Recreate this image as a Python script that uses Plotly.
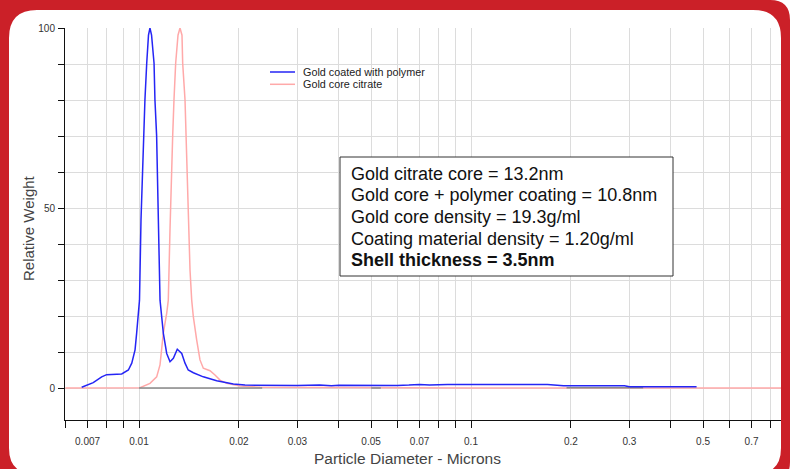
import plotly.graph_objects as go

# ---------------- data ----------------
series_names = ["Gold coated with polymer", "Gold core citrate"]
series_colors = ["#2525F5", "#FFA9A9"]

blue_x = [0.00672, 0.00728, 0.00772, 0.00799, 0.00887, 0.00929, 0.00951, 0.00973,
          0.00984, 0.00995, 0.010035, 0.01014, 0.01026, 0.01035, 0.01042, 0.01055,
          0.01068, 0.01079, 0.01091, 0.01110, 0.01117, 0.01130, 0.01133, 0.01141,
          0.01149, 0.01157, 0.01184, 0.01212, 0.01240, 0.01269, 0.01304, 0.01345,
          0.01376, 0.01407, 0.01458, 0.01562, 0.01714, 0.01923, 0.02086,
          0.025, 0.03, 0.035, 0.038, 0.04, 0.045, 0.05, 0.055, 0.06, 0.065, 0.07,
          0.075, 0.085, 0.1, 0.12, 0.15, 0.17, 0.19, 0.25, 0.29, 0.30, 0.40, 0.478]
blue_y = [0.2, 1.5, 3.1, 3.7, 3.9, 5.0, 6.9, 10.6,
          15.3, 21.7, 24.4, 46.7, 64.2, 70.1, 80.0, 90.2,
          98.0, 100.0, 98.0, 90.2, 80.0, 70.1, 64.2, 46.7,
          32.8, 24.4, 15.2, 9.6, 7.3, 8.25, 10.75, 9.6,
          6.9, 5.0, 4.25, 3.1, 2.0, 1.1, 0.8,
          0.7, 0.7, 0.8, 0.6, 0.75, 0.7, 0.7, 0.8, 0.7, 0.8, 1.0,
          0.8, 1.0, 1.0, 1.0, 1.0, 1.0, 0.6, 0.6, 0.6, 0.35, 0.35, 0.35]

pink_x = [0.006, 0.01007, 0.010793, 0.011304, 0.011568, 0.011705, 0.011835, 0.012116,
          0.012253, 0.012398, 0.012545, 0.012632, 0.012746, 0.012896, 0.013106,
          0.013289, 0.013474, 0.013539, 0.013760, 0.013855, 0.013922, 0.014048,
          0.014244, 0.014412, 0.014575, 0.014921, 0.015265, 0.015621, 0.016364,
          0.016938, 0.017538, 0.018370, 0.020145, 0.023145, 0.1, 0.9]
pink_y = [0.0, 0.1, 1.3, 3.1, 6.4, 10.6, 15.2, 20.7,
          24.4, 43.9, 64.2, 70.1, 80.0, 90.2, 98.0,
          100.0, 98.0, 90.2, 80.0, 70.1, 64.2, 46.7,
          32.8, 24.4, 19.8, 13.3, 7.8, 5.5, 4.8,
          3.6, 2.2, 1.3, 0.55, 0.2, 0.0, 0.0]

base_x = [0.01, 0.0235, None, 0.05, 0.0535, None, 0.194, 0.33]
base_y = [0.0, 0.0, None, 0.0, 0.0, None, 0.1, 0.1]

x_tickvals = [0.006, 0.007, 0.008, 0.009, 0.01, 0.02, 0.03, 0.04, 0.05, 0.06, 0.07,
              0.08, 0.09, 0.1, 0.2, 0.3, 0.4, 0.5, 0.6, 0.7, 0.8]
x_labeled = ["0.007", "0.01", "0.02", "0.03", "0.05", "0.07", "0.1", "0.2", "0.3", "0.5", "0.7"]
y_tickvals = [0, 10, 20, 30, 40, 50, 60, 70, 80, 90, 100]
y_labeled = ["0", "50", "100"]

info_lines = ["Gold citrate core = 13.2nm",
              "Gold core + polymer coating = 10.8nm",
              "Gold core density = 19.3g/ml",
              "Coating material density = 1.20g/ml",
              "<b>Shell thickness = 3.5nm</b>"]

x_title = "Particle Diameter - Microns"
y_title = "Relative Weight"

# ---------------- layout geometry ----------------
W, H = 790, 469
ML, MR, MT, MB = 65, 9, 28, 49
PW, PH = W - ML - MR, H - MT - MB
FONT = "Liberation Sans, Arial, sans-serif"
RED = "#CB2028"


def fx(px):
    return (px - ML) / PW


def fy(py):
    return (H - MB - py) / PH


def path(cmds):
    out = []
    for c in cmds:
        if c[0] == "Z":
            out.append("Z")
        else:
            pts = " ".join(f"{fx(c[i]):.5f},{fy(c[i + 1]):.5f}" for i in range(1, len(c), 2))
            out.append(f"{c[0]}{pts}")
    return " ".join(out)


def fmt_tick(v):
    return f"{v:g}"


xt_text = [fmt_tick(v) if fmt_tick(v) in x_labeled else "" for v in x_tickvals]
yt_text = [str(v) if str(v) in y_labeled else "" for v in y_tickvals]

fig = go.Figure()
fig.add_trace(go.Scatter(x=pink_x, y=pink_y, mode="lines", name=series_names[1],
                         line=dict(color=series_colors[1], width=1.5), showlegend=False))
fig.add_trace(go.Scatter(x=base_x, y=base_y, mode="lines", name="baseline",
                         line=dict(color="#8a8a8a", width=1.5), showlegend=False,
                         connectgaps=False))
fig.add_trace(go.Scatter(x=blue_x, y=blue_y, mode="lines", name=series_names[0],
                         line=dict(color=series_colors[0], width=1.5), showlegend=False))

shapes = []
# red rounded frame (outer minus inner)
rt, rb, ro = 28, 26, 20
L_, T_, R_, B_ = 9, 10, 781, 474
outer = [("M", -30, 0), ("L", 790 - ro, 0), ("Q", 790, 0, 790, ro),
         ("L", 790, 462), ("Q", 790, 482, 770, 482), ("L", -30, 482), ("Z",)]
inner = [("M", L_ + rt, T_), ("L", R_ - rt, T_), ("Q", R_, T_, R_, T_ + rt),
         ("L", R_, B_ - rb), ("Q", R_, B_, R_ - rb, B_), ("L", L_ + rb, B_),
         ("Q", L_, B_, L_, B_ - rb), ("L", L_, T_ + rt), ("Q", L_, T_, L_ + rt, T_), ("Z",)]
shapes.append(dict(type="path", xref="paper", yref="paper", path=path(outer) + " " + path(inner),
                   fillrule="evenodd", fillcolor=RED, line=dict(width=0), layer="below"))

# info box
shapes.append(dict(type="rect", xref="paper", yref="paper", x0=fx(340), x1=fx(673),
                   y0=fy(276), y1=fy(157), fillcolor="white",
                   line=dict(color="#333333", width=1), layer="above"))

annotations = []
# manual legend
leg_y = [72, 84.3]
for name, col, ly in zip(series_names, series_colors, leg_y):
    shapes.append(dict(type="line", xref="paper", yref="paper", x0=fx(270), x1=fx(295),
                       y0=fy(ly), y1=fy(ly), line=dict(color=col, width=1.5)))
    annotations.append(dict(xref="paper", yref="paper", x=fx(301), y=fy(ly), text=name,
                            showarrow=False, xanchor="left", yanchor="middle",
                            font=dict(family=FONT, size=10.8, color="#222222")))

line_y = [173.5, 195.2, 216.9, 238.6, 260.3]
for t, ly in zip(info_lines, line_y):
    annotations.append(dict(xref="paper", yref="paper", x=fx(349), y=fy(ly), text=t,
                            showarrow=False, xanchor="left", yanchor="middle",
                            font=dict(family=FONT, size=18, color="#111111")))

annotations.append(dict(xref="paper", yref="paper", x=fx(407.5), y=fy(458), text=x_title,
                        showarrow=False, xanchor="center", yanchor="middle",
                        font=dict(family=FONT, size=15.5, color="#444444")))
annotations.append(dict(xref="paper", yref="paper", x=fx(28), y=fy(228), text=y_title,
                        showarrow=False, xanchor="center", yanchor="middle", textangle=-90,
                        font=dict(family=FONT, size=15, color="#444444")))

fig.update_layout(
    width=W, height=H,
    margin=dict(l=ML, r=MR, t=MT, b=MB, pad=0),
    paper_bgcolor="white", plot_bgcolor="white",
    showlegend=False,
    shapes=shapes, annotations=annotations,
    xaxis=dict(type="log", range=[-2 + (ML - 139) / 332, -2 + (W - MR - 139) / 332],
               tickvals=x_tickvals, ticktext=xt_text, ticks="outside", ticklen=7,
               tickcolor="#111111", tickwidth=1, showline=True, linecolor="#111111",
               linewidth=1, showgrid=True, gridcolor="#dcdcdc", gridwidth=1,
               zeroline=False, ticklabelstandoff=5,
               tickfont=dict(family=FONT, size=10, color="#333333")),
    yaxis=dict(range=[-(420 - 388) / 3.6, 100], tickvals=y_tickvals, ticktext=yt_text,
               ticks="outside", ticklen=6, tickcolor="#111111", tickwidth=1,
               showline=True, linecolor="#111111", linewidth=1, showgrid=True,
               gridcolor="#dcdcdc", gridwidth=1, zeroline=False, ticklabelstandoff=1,
               tickfont=dict(family=FONT, size=10, color="#333333")),
)

fig.write_html("out.html")
